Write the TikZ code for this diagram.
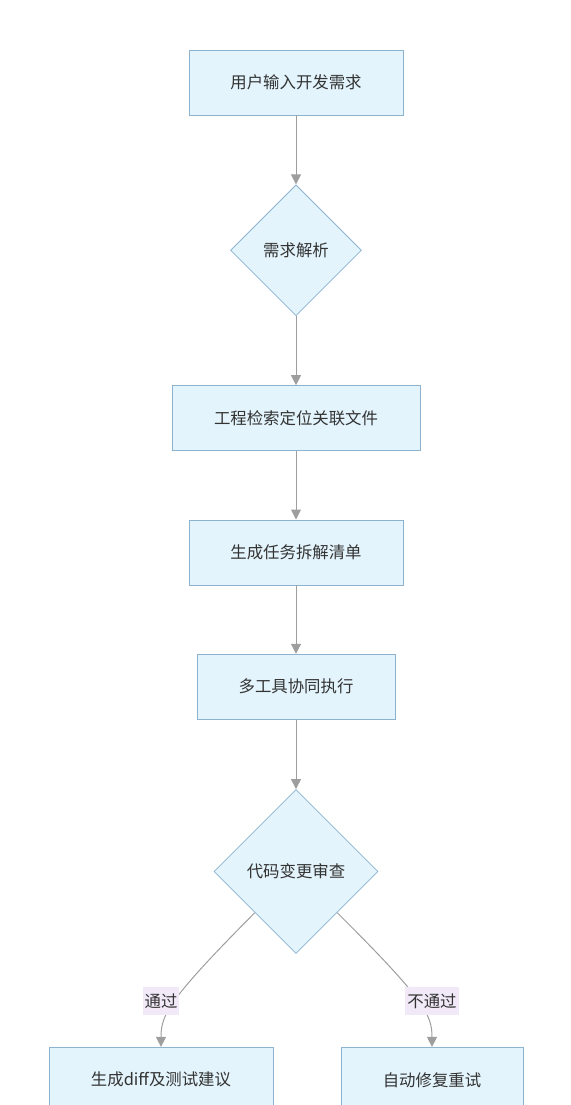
\documentclass[tikz,border=0pt]{standalone}
\usepackage{fontspec}
\setmainfont{Noto Sans CJK SC}
\usetikzlibrary{positioning, shapes.geometric, arrows.meta}
\definecolor{boxfill}{HTML}{E3F4FC}
\definecolor{boxline}{HTML}{8DB3CE}
\definecolor{flowline}{HTML}{9E9E9E}
\definecolor{labelfill}{HTML}{F1E9F8}
\definecolor{textcol}{HTML}{333333}
\tikzset{
  stepbox/.style={draw=boxline, fill=boxfill, line width=0.8pt, minimum height=65pt,
    text=textcol, font=\fontsize{16.4pt}{18pt}\selectfont, inner sep=0pt},
  decision/.style={diamond, aspect=1, draw=boxline, fill=boxfill, line width=0.8pt,
    text=textcol, font=\fontsize{16.4pt}{18pt}\selectfont, inner sep=0pt},
  flow/.style={draw=flowline, line width=1pt, -{Triangle[length=10pt, width=10pt]}},
  edgetag/.style={fill=labelfill, text=textcol, inner sep=2pt, minimum height=28pt,
    font=\fontsize{16.4pt}{18pt}\selectfont},
}
\begin{document}
\begin{tikzpicture}[x=1pt, y=-1pt]
      \clip (0,0) rectangle (570,1105);
      \useasboundingbox (0,0) rectangle (570,1105);
      \node [stepbox, minimum width=214pt] (input) at (296,82.5) {用户输入开发需求};
      \node [decision, below=69pt of input, minimum width=131pt, minimum height=131pt] (parse) {需求解析};
      \node [stepbox, below=69pt of parse, minimum width=248pt] (search) {工程检索定位关联文件};
      \node [stepbox, below=68.5pt of search, minimum width=214pt] (tasks) {生成任务拆解清单};
      \node [stepbox, below=68.5pt of tasks, minimum width=198pt] (exec) {多工具协同执行};
      \node [decision, below=69.5pt of exec, minimum width=164pt, minimum height=164pt] (review) {代码变更审查};
      \node [stepbox, below=93pt of review, xshift=-135pt, minimum width=224pt] (pass) {生成diff及测试建议};
      \node [stepbox, below=93pt of review, xshift=136pt, minimum width=182pt] (retry) {自动修复重试};
      \draw [flow] (input) -- (parse);
      \draw [flow] (parse) -- (search);
      \draw [flow] (search) -- (tasks);
      \draw [flow] (tasks) -- (exec);
      \draw [flow] (exec) -- (review);
      \draw [flow] (review.south west) .. controls (168,1000) and (161,1015) .. (pass.north);
      \draw [flow] (review.south east) .. controls (425,1000) and (432,1015) .. (retry.north);
      \node [edgetag] (yes) at (161,1001) {通过};
      \node [edgetag] (no) at (432,1001) {不通过};
    \end{tikzpicture}
\end{document}
